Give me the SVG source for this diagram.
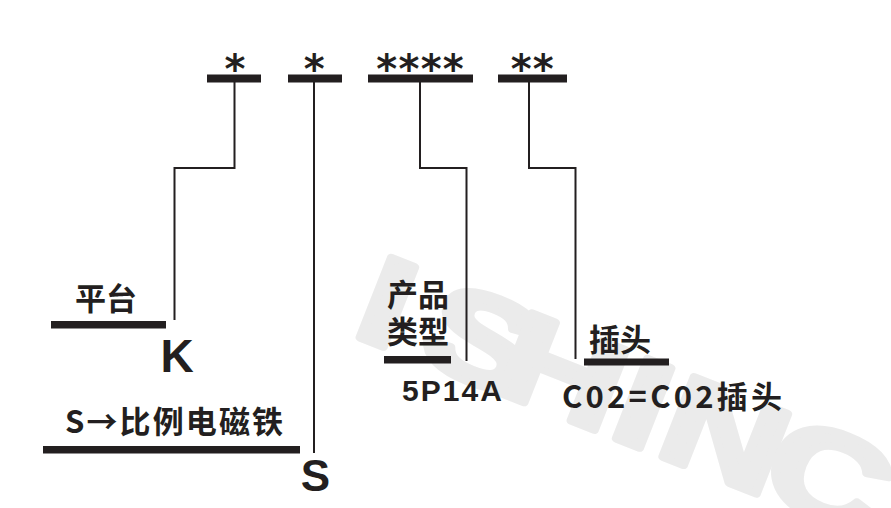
<svg xmlns="http://www.w3.org/2000/svg" width="891" height="508" viewBox="0 0 891 508">
<style>
.bar{fill:#231f20}
.ln{fill:none;stroke:#231f20;stroke-width:2}
.ast{font-family:"DejaVu Sans",sans-serif;font-weight:bold;font-size:40px;fill:#231f20;text-anchor:middle}
.cjk{font-family:"Noto Sans CJK SC",sans-serif;font-weight:bold;font-size:31px;fill:#231f20}
.lat{font-family:"Liberation Sans",Arial,sans-serif;font-weight:bold;fill:#231f20}
.wm{font-family:"Liberation Sans",Arial,sans-serif;font-weight:bold;font-size:126px;fill:#ebebeb;stroke:#ebebeb;stroke-width:7;stroke-linejoin:round}
</style>
<rect width="891" height="508" fill="#ffffff"/>
<g id="watermark" transform="translate(357,337) rotate(21.5) scale(1.35,1)">
<text class="wm" x="-6 46 106 198 235 318" y="0">ISHINC</text>
</g>
<g id="code">
<rect class="bar" x="207" y="74.5" width="54" height="8"/>
<rect class="bar" x="288" y="74.5" width="54" height="8"/>
<rect class="bar" x="368" y="74.5" width="105" height="8"/>
<rect class="bar" x="498" y="74.5" width="69" height="8"/>
<text class="ast" x="235" y="82.5">*</text>
<text class="ast" x="314.3" y="82.5">*</text>
<text class="ast" x="386.8 409 431.2 453.3" y="82.5">****</text>
<text class="ast" x="521.2 543.3" y="82.5">**</text>
</g>
<g id="connectors">
<path class="ln" d="M234.5,82 V168 H174.5 V320"/>
<path class="ln" d="M314,82 V453"/>
<path class="ln" d="M420,82 V168 H466.5 V361"/>
<path class="ln" d="M529,82 V168 H575.5 V359"/>
</g>
<g id="platform">
<text class="cjk" x="75" y="310">平台</text>
<rect class="bar" x="51" y="321" width="115" height="7.5"/>
<text class="lat" x="160.6" y="372" font-size="46">K</text>
</g>
<g id="solenoid">
<text class="cjk" x="65" y="433" textLength="218" lengthAdjust="spacing">S→比例电磁铁</text>
<rect class="bar" x="43" y="446" width="257" height="7.5"/>
<text class="lat" x="300.7" y="491" font-size="44">S</text>
</g>
<g id="type">
<text class="cjk" x="387" y="306">产品</text>
<text class="cjk" x="387" y="343">类型</text>
<rect class="bar" x="384" y="356" width="67" height="7.5"/>
<text class="lat" x="402" y="401" font-size="30" textLength="100" lengthAdjust="spacing">5P14A</text>
</g>
<g id="plug">
<text class="cjk" x="589" y="351">插头</text>
<rect class="bar" x="584" y="358.5" width="85" height="7"/>
<text class="cjk" x="562" y="408" font-size="32" textLength="220" lengthAdjust="spacing">C02=C02插头</text>
</g>
</svg>
